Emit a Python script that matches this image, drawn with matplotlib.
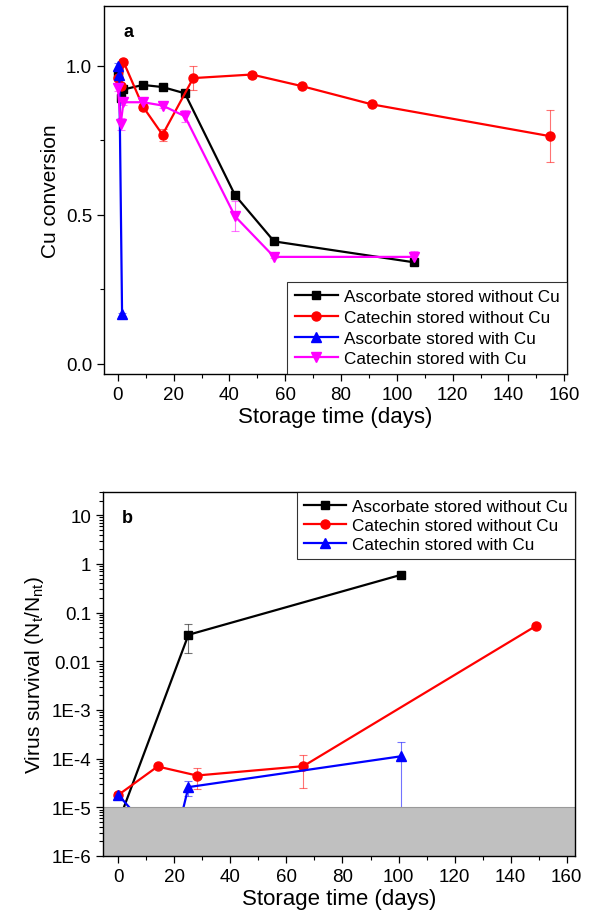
import matplotlib
matplotlib.use("Agg")
import matplotlib.pyplot as plt
from matplotlib.ticker import FixedLocator, MultipleLocator, LogLocator, NullFormatter

plt.rcParams['font.family'] = ['Liberation Sans', 'DejaVu Sans']
plt.rcParams['mathtext.fontset'] = 'custom'
plt.rcParams['mathtext.rm'] = 'Liberation Sans'
plt.rcParams['mathtext.it'] = 'Liberation Sans'

# ---- Panel a: Cu conversion vs storage time ----
asc_noCu_days = [0, 1, 2, 9, 16, 24, 42, 56, 106]
asc_noCu_conv = [0.97, 0.89, 0.92, 0.935, 0.928, 0.907, 0.565, 0.41, 0.34]
asc_noCu_err = [0.01, 0.01, 0.01, 0.005, 0.005, 0.005, 0.01, 0.005, 0.01]

cat_noCu_days = [0, 1, 2, 9, 16, 27, 48, 66, 91, 155]
cat_noCu_conv = [0.96, 0.93, 1.013, 0.862, 0.768, 0.958, 0.97, 0.931, 0.87, 0.763]
cat_noCu_err = [0.01, 0.01, 0.01, 0.01, 0.02, 0.04, 0.01, 0.005, 0.005, 0.088]

asc_Cu_days = [0, 0.5, 1.5]
asc_Cu_conv = [1.0, 0.97, 0.165]
asc_Cu_err = [0.01, 0.01, 0.005]

cat_Cu_days = [0, 1, 2, 9, 16, 24, 42, 56, 106]
cat_Cu_conv = [0.924, 0.805, 0.877, 0.877, 0.866, 0.83, 0.494, 0.358, 0.358]
cat_Cu_err = [0.01, 0.02, 0.01, 0.01, 0.01, 0.02, 0.05, 0.005, 0.02]

# ---- Panel b: virus survival vs storage time ----
vs_asc_noCu_days = [0, 25, 101]
vs_asc_noCu_val = [5e-6, 0.035, 0.6]
vs_asc_noCu_lo = [0, 0.02, 0.02]
vs_asc_noCu_hi = [0, 0.022, 0.05]

vs_cat_noCu_days = [0, 14, 28, 66, 149]
vs_cat_noCu_val = [1.8e-5, 6.9e-5, 4.5e-5, 7.0e-5, 0.053]
vs_cat_noCu_lo = [2e-6, 3e-6, 2.1e-5, 4.5e-5, 0.006]
vs_cat_noCu_hi = [2e-6, 3e-6, 1.8e-5, 5.0e-5, 0.007]

vs_cat_Cu_days = [0, 19, 25, 101]
vs_cat_Cu_val = [1.8e-5, 1e-6, 2.6e-5, 1.12e-4]
vs_cat_Cu_lo = [3e-6, 0, 9e-6, 1.1199e-4]
vs_cat_Cu_hi = [3e-6, 0, 8e-6, 1.1e-4]

detection_limit = 1e-5

ylog_ticks = [1e-6, 1e-5, 1e-4, 1e-3, 0.01, 0.1, 1, 10]
ylog_labels = ['1E-6', '1E-5', '1E-4', '1E-3', '0.01', '0.1', '1', '10']

fig = plt.figure(figsize=(5.94, 9.2), dpi=100)
ax1 = fig.add_axes([0.175, 0.5924, 0.7795, 0.4000])
ax2 = fig.add_axes([0.1734, 0.0685, 0.7946, 0.3956])

lw = 1.6
ms = 6


def series(ax, x, y, err, color, marker, label, msize=ms):
    ax.errorbar(x, y, yerr=err, fmt='none', ecolor=color, elinewidth=0.8,
                capsize=3, capthick=0.8, alpha=0.55, zorder=2)
    ax.plot(x, y, color=color, lw=lw, marker=marker, ms=msize, label=label,
            zorder=3)


def add_legend(ax, loc, spacing, pad):
    leg = ax.legend(loc=loc, fontsize=12.3, frameon=True, fancybox=False,
                    edgecolor='black', borderaxespad=0, handlelength=2.5,
                    labelspacing=spacing, borderpad=pad, handletextpad=0.35)
    leg.get_frame().set_linewidth(0.8)
    return leg


series(ax1, asc_noCu_days, asc_noCu_conv, asc_noCu_err, 'black', 's',
       'Ascorbate stored without Cu')
series(ax1, cat_noCu_days, cat_noCu_conv, cat_noCu_err, '#ff0000', 'o',
       'Catechin stored without Cu', msize=6.5)
series(ax1, asc_Cu_days, asc_Cu_conv, asc_Cu_err, '#0000ff', '^',
       'Ascorbate stored with Cu', msize=6.5)
series(ax1, cat_Cu_days, cat_Cu_conv, cat_Cu_err, '#ff00ff', 'v',
       'Catechin stored with Cu', msize=6.5)

ax1.set_xlim(-5, 161)
ax1.set_ylim(-0.035, 1.2)
ax1.xaxis.set_major_locator(MultipleLocator(20))
ax1.xaxis.set_minor_locator(MultipleLocator(10))
ax1.yaxis.set_major_locator(FixedLocator([0.0, 0.5, 1.0]))
ax1.yaxis.set_minor_locator(FixedLocator([0.25, 0.75]))
ax1.set_yticklabels(['0.0', '0.5', '1.0'])
ax1.set_xlabel('Storage time (days)', fontsize=16, labelpad=2)
ax1.set_ylabel('Cu conversion', fontsize=15, labelpad=4)
ax1.text(0.052, 0.93, 'a', transform=ax1.transAxes, fontsize=13,
         fontweight='bold', va='center', ha='center')
add_legend(ax1, 'lower right', 0.33, 0.45)

# Panel b
series(ax2, vs_asc_noCu_days, vs_asc_noCu_val,
       [vs_asc_noCu_lo, vs_asc_noCu_hi], 'black', 's',
       'Ascorbate stored without Cu')
series(ax2, vs_cat_noCu_days, vs_cat_noCu_val,
       [vs_cat_noCu_lo, vs_cat_noCu_hi], '#ff0000', 'o',
       'Catechin stored without Cu', msize=6.5)
series(ax2, vs_cat_Cu_days, vs_cat_Cu_val,
       [vs_cat_Cu_lo, vs_cat_Cu_hi], '#0000ff', '^',
       'Catechin stored with Cu', msize=6.5)
ax2.axhspan(1e-6, detection_limit, color='#c0c0c0', zorder=4, lw=0)
ax2.axhline(detection_limit, color='#9a9a9a', lw=0.8, zorder=4)

ax2.set_yscale('log')
ax2.set_xlim(-5.5, 163)
ax2.set_ylim(1e-6, 30)
ax2.xaxis.set_major_locator(MultipleLocator(20))
ax2.xaxis.set_minor_locator(MultipleLocator(10))
ax2.yaxis.set_major_locator(FixedLocator(ylog_ticks))
ax2.set_yticklabels(ylog_labels)
ax2.yaxis.set_minor_locator(LogLocator(base=10, subs=range(2, 10), numticks=20))
ax2.yaxis.set_minor_formatter(NullFormatter())
ax2.set_xlabel('Storage time (days)', fontsize=16, labelpad=2)
ax2.set_ylabel('Virus survival (N$_\\mathregular{t}$/N$_\\mathregular{nt}$)',
               fontsize=15, labelpad=4)
ax2.text(0.052, 0.93, 'b', transform=ax2.transAxes, fontsize=13,
         fontweight='bold', va='center', ha='center')
add_legend(ax2, 'upper right', 0.25, 0.4)

for ax in (ax1, ax2):
    for sp in ax.spines.values():
        sp.set_linewidth(1.0)
        sp.set_zorder(5)
    ax.tick_params(which='major', direction='out', length=5, width=0.9,
                   labelsize=13.5)
    ax.tick_params(which='minor', direction='out', length=3, width=0.8)

fig.savefig('out.png', dpi=100)
